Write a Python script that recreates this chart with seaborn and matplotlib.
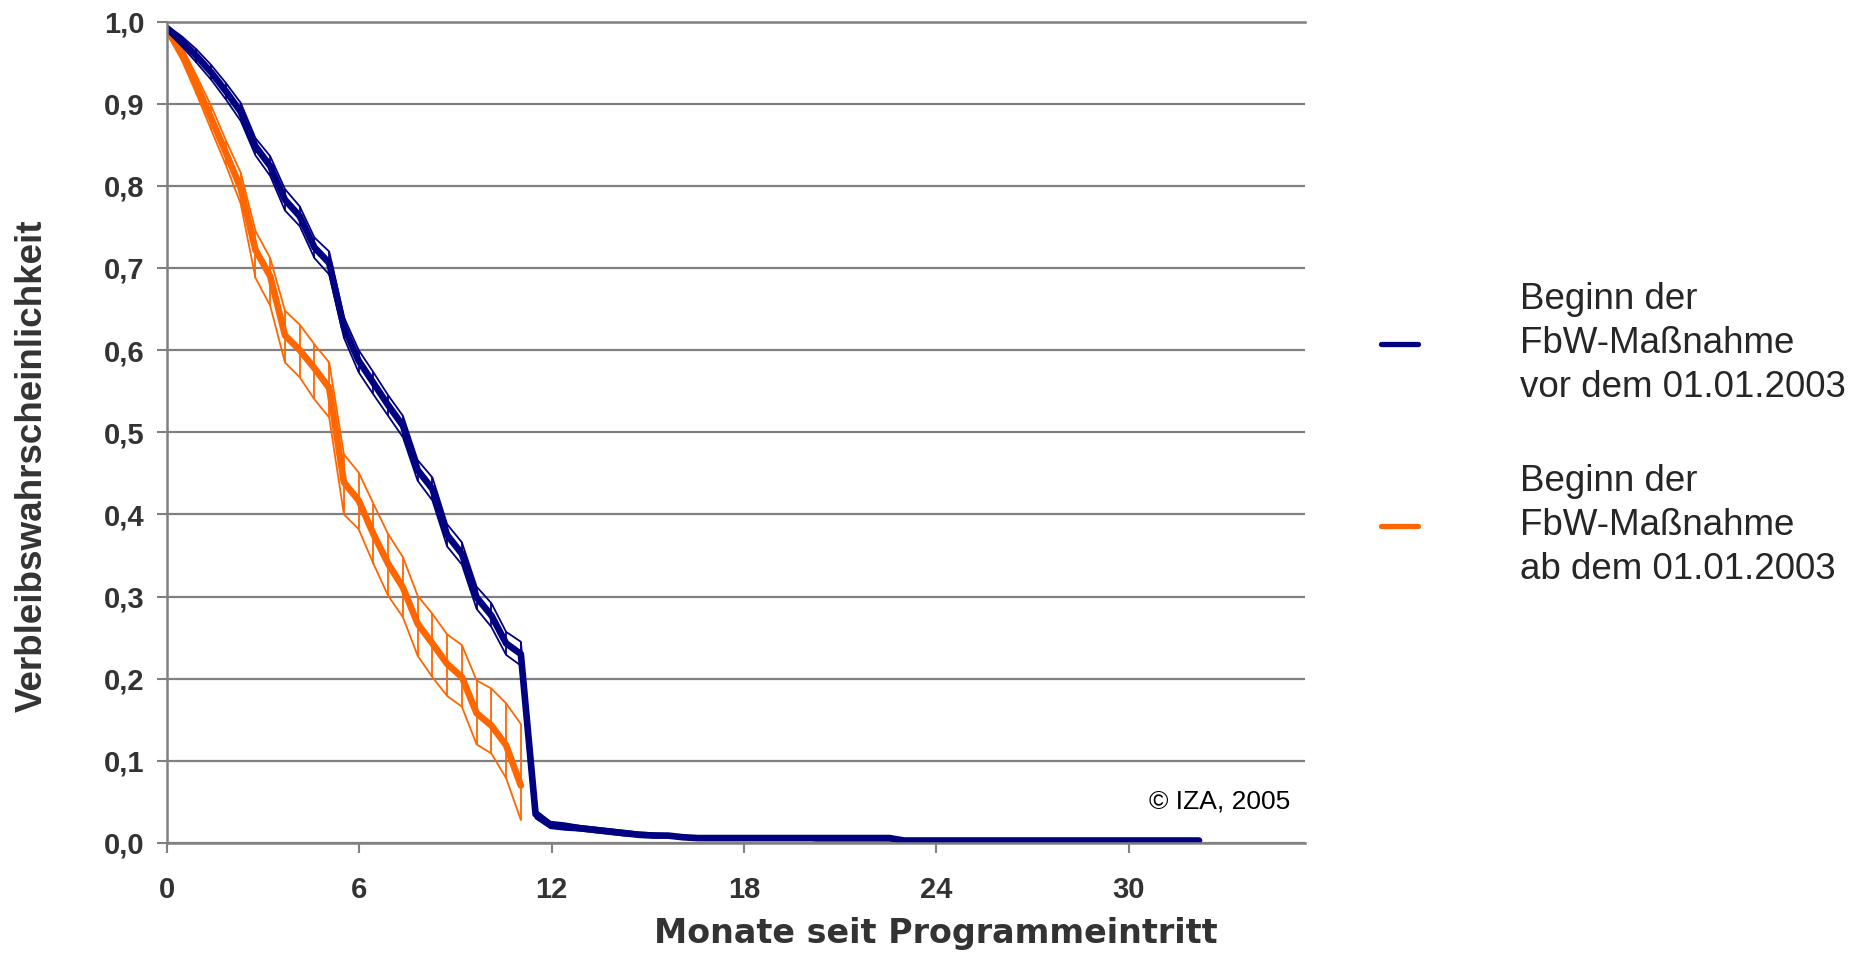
import numpy as np
import matplotlib
matplotlib.use("Agg")
import matplotlib.pyplot as plt
import seaborn as sns
from matplotlib.lines import Line2D

# Verbleibswahrscheinlichkeit je 14-Tage-Periode seit Programmeintritt
blue_main = [0.992, 0.976, 0.958, 0.938, 0.915, 0.890, 0.848, 0.824, 0.783, 0.763,
             0.725, 0.706, 0.628, 0.587, 0.560, 0.533, 0.508, 0.454, 0.431, 0.375,
             0.352, 0.299, 0.277, 0.243, 0.230, 0.035, 0.022, 0.020, 0.018, 0.016,
             0.014, 0.012, 0.010, 0.009, 0.009, 0.007, 0.006, 0.006, 0.006, 0.006,
             0.006, 0.006, 0.006, 0.006, 0.006, 0.006, 0.006, 0.006, 0.006, 0.006,
             0.003, 0.003, 0.003, 0.003, 0.003, 0.003, 0.003, 0.003, 0.003, 0.003,
             0.003, 0.003, 0.003, 0.003, 0.003, 0.003, 0.003, 0.003, 0.003, 0.003,
             0.003]
blue_hi = [0.995, 0.982, 0.966, 0.947, 0.925, 0.901, 0.858, 0.836, 0.796, 0.775,
           0.737, 0.720, 0.640, 0.600, 0.573, 0.545, 0.520, 0.466, 0.445, 0.388,
           0.366, 0.312, 0.292, 0.257, 0.245, 0.040, 0.026, 0.024, 0.021, 0.019,
           0.017, 0.015, 0.013, 0.012, 0.011, 0.009, 0.008, 0.008, 0.008, 0.008,
           0.008, 0.008, 0.008, 0.008, 0.008, 0.008, 0.008, 0.008, 0.008, 0.008,
           0.004, 0.004, 0.004, 0.004, 0.004, 0.004, 0.004, 0.004, 0.004, 0.004,
           0.004, 0.004, 0.004, 0.004, 0.004, 0.004, 0.004, 0.004, 0.004, 0.004,
           0.004]
blue_lo = [0.988, 0.970, 0.950, 0.929, 0.905, 0.879, 0.837, 0.812, 0.770, 0.751,
           0.712, 0.692, 0.615, 0.573, 0.546, 0.520, 0.494, 0.441, 0.417, 0.361,
           0.339, 0.285, 0.263, 0.229, 0.216, 0.030, 0.018, 0.016, 0.015, 0.013,
           0.011, 0.009, 0.008, 0.007, 0.007, 0.005, 0.005, 0.005, 0.005, 0.005,
           0.005, 0.005, 0.005, 0.005, 0.003, 0.003, 0.003, 0.003, 0.003, 0.003,
           0.002, 0.002, 0.002, 0.002, 0.002, 0.002, 0.002, 0.002, 0.002, 0.002,
           0.002, 0.002, 0.002, 0.002, 0.002, 0.002, 0.002, 0.002, 0.002, 0.002,
           0.002]

orange_main = [0.990, 0.962, 0.923, 0.882, 0.840, 0.797, 0.722, 0.690, 0.618, 0.600,
               0.578, 0.554, 0.439, 0.417, 0.376, 0.340, 0.311, 0.267, 0.243, 0.218,
               0.202, 0.158, 0.143, 0.119, 0.070]
orange_hi = [0.995, 0.970, 0.934, 0.897, 0.855, 0.816, 0.745, 0.712, 0.648, 0.631,
             0.607, 0.585, 0.473, 0.451, 0.413, 0.376, 0.348, 0.301, 0.279, 0.254,
             0.241, 0.198, 0.188, 0.170, 0.145]
orange_lo = [0.985, 0.953, 0.912, 0.868, 0.825, 0.778, 0.688, 0.654, 0.585, 0.567,
             0.540, 0.518, 0.400, 0.382, 0.340, 0.301, 0.275, 0.228, 0.202, 0.179,
             0.166, 0.120, 0.109, 0.079, 0.028]

labels = ["Beginn der\nFbW-Maßnahme\nvor dem 01.01.2003",
          "Beginn der\nFbW-Maßnahme\nab dem 01.01.2003"]
x_ticks = [0, 6, 12, 18, 24, 30]
y_ticks = [0.0, 0.1, 0.2, 0.3, 0.4, 0.5, 0.6, 0.7, 0.8, 0.9, 1.0]
y_tick_labels = ["0,0", "0,1", "0,2", "0,3", "0,4", "0,5", "0,6", "0,7", "0,8", "0,9", "1,0"]

BLUE = "#000080"
ORANGE = "#FF6600"
GRID = "#808080"
TEXT = "#333333"

# periods are 14 days long, converted to months
months_per_period = 14 / 30.44
x_blue = np.arange(len(blue_main)) * months_per_period
x_orange = np.arange(len(orange_main)) * months_per_period

sns.set_style("white")
plt.rcParams["font.family"] = ["Liberation Sans", "DejaVu Sans"]

fig = plt.figure(figsize=(18.72, 9.56), dpi=100)
ax = fig.add_axes([167 / 1872, 1 - 843 / 956, (1305 - 167) / 1872, (843 - 21.5) / 956])


def draw_band(x, main, hi, lo, color):
    sns.lineplot(x=x, y=hi, color=color, linewidth=1.3, estimator=None, ax=ax, legend=False)
    sns.lineplot(x=x, y=lo, color=color, linewidth=1.3, estimator=None, ax=ax, legend=False)
    ax.vlines(x, lo, hi, colors=color, linewidth=1.3)
    sns.lineplot(x=x, y=main, color=color, linewidth=4.8, estimator=None, ax=ax, legend=False)


draw_band(x_orange, orange_main, orange_hi, orange_lo, ORANGE)
draw_band(x_blue, blue_main, blue_hi, blue_lo, BLUE)

ax.set_xlim(0, 35.5)
ax.set_ylim(0, 1.0)
ax.set_xticks(x_ticks)
ax.set_xticklabels([str(t) for t in x_ticks])
ax.set_yticks(y_ticks)
ax.set_yticklabels(y_tick_labels)
ax.set_axisbelow(True)
ax.yaxis.grid(True, color=GRID, linewidth=1.6)
ax.xaxis.grid(False)

for side in ["left", "bottom", "top"]:
    ax.spines[side].set_visible(True)
    ax.spines[side].set_color(GRID)
    ax.spines[side].set_linewidth(1.8)
ax.spines["right"].set_visible(False)

ax.tick_params(axis="y", length=7, width=1.5, color=GRID, pad=9, left=True)
ax.tick_params(axis="x", length=7, width=1.5, color=GRID, pad=17, bottom=True)
for lab in ax.get_xticklabels() + ax.get_yticklabels():
    lab.set_fontfamily("Liberation Sans")
    lab.set_fontweight("bold")
    lab.set_fontsize(21)
    lab.set_color(TEXT)

ax.set_xlabel("")
ax.set_ylabel("")
fig.text(936 / 1872, 1 - 934 / 956, "Monate seit Programmeintritt", ha="center", va="center",
         fontsize=24, fontweight="bold", color=TEXT, family="DejaVu Sans")
fig.text(32 / 1872, 1 - 466 / 956, "Verbleibswahrscheinlichkeit", ha="center", va="center",
         rotation=90, fontsize=26.5, fontweight="bold", color=TEXT)

ax.text(35.05, 0.051, "© IZA, 2005", ha="right", va="center", fontsize=19, color="black")

handles = [Line2D([0], [0], color=BLUE, linewidth=3.8),
           Line2D([0], [0], color=ORANGE, linewidth=3.8)]
leg = fig.legend(handles, labels, loc="center left", bbox_to_anchor=(1381 / 1872, 1 - 434.5 / 956),
                 frameon=False, fontsize=26.5, handlelength=1.0, handletextpad=2.77,
                 labelspacing=1.58, borderpad=0, borderaxespad=0)
for t in leg.get_texts():
    t.set_linespacing(1.35)

fig.savefig("out.png", dpi=100)
plt.close(fig)
